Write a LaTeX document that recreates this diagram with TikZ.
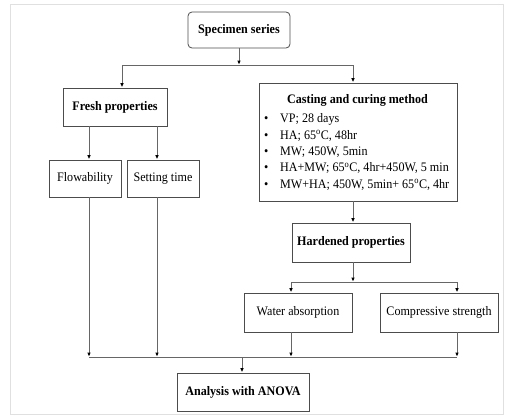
\documentclass[tikz,border=0pt]{standalone}
\usepackage{fontspec}
\setmainfont{Liberation Serif}[FakeStretch=0.93]
\usetikzlibrary{arrows.meta}
\begin{document}
\begin{tikzpicture}[x=1pt,y=-1pt,
  box/.style={draw=black!70, line width=0.8pt, inner sep=2pt, align=center, font=\fontsize{13}{15}\selectfont},
  bbox/.style={box, font=\fontsize{13}{15}\selectfont\bfseries},
  line/.style={draw=black!60, line width=0.8pt},
  arr/.style={line, -{Latex[length=4pt,width=3.6pt,black]}, shorten >=0.4pt}]
\useasboundingbox (0,0) rectangle (506,415);
\draw[black!12, line width=0.8pt] (10.5,4) rectangle (503,414);

\node[bbox, rounded corners=4pt, minimum width=102pt, minimum height=36pt] (spec) at (239,30) {Specimen series};
\node[bbox, minimum width=104pt, minimum height=38pt] (fresh) at (115,107) {Fresh properties};
\node[box, minimum width=72pt, minimum height=37pt] (flow) at (85,178.5) {Flowability};
\node[box, minimum width=72pt, minimum height=37pt] (set) at (163,178.5) {Setting time};
\node[draw=black!70, line width=0.8pt, minimum width=198pt, minimum height=118pt] (cast) at (358,142) {};
\node[font=\fontsize{13}{15}\selectfont\bfseries] (casttitle) at (357.5,100) {Casting and curing method};
\node[anchor=west, align=left, font=\fontsize{13}{16.3}\selectfont, inner sep=0pt] (castlist) at (264,152) {%
\makebox[16pt][l]{•}VP; 28 days\\
\makebox[16pt][l]{•}HA; 65\textsuperscript{o}C, 48hr\\
\makebox[16pt][l]{•}MW; 450W, 5min\\
\makebox[16pt][l]{•}HA+MW; 65\textsuperscript{o}C, 4hr+450W, 5 min\\
\makebox[16pt][l]{•}MW+HA; 450W, 5min+ 65\textsuperscript{o}C, 4hr};
\node[bbox, minimum width=118pt, minimum height=39pt] (hard) at (351,242.5) {Hardened properties};
\node[box, minimum width=108pt, minimum height=39pt] (water) at (298,312.5) {Water absorption};
\node[box, minimum width=118pt, minimum height=39pt] (comp) at (439,312.5) {Compressive strength};
\node[bbox, minimum width=132pt, minimum height=38pt] (anova) at (243,392) {Analysis with ANOVA};

% junction coordinates
\coordinate (t0) at (239,65);
\coordinate (tl) at (122,65);
\coordinate (tr) at (353,65);
\coordinate (f1) at (89,126);
\coordinate (f2) at (157,126);
\coordinate (h0) at (353,282);
\coordinate (hl) at (291,282);
\coordinate (hr) at (457,282);
\coordinate (b1) at (89,357);
\coordinate (b2) at (157,357);
\coordinate (b3) at (291,357);
\coordinate (b4) at (457,357);
\coordinate (b0) at (242,357);

\draw[arr] (spec.south) -- (t0);
\draw[line] (tl) -- (tr);
\draw[arr] (tl) -- (tl |- fresh.north);
\draw[arr] (tr) -- (tr |- cast.north);

\draw[arr] (f1) -- (f1 |- flow.north);
\draw[arr] (f2) -- (f2 |- set.north);

\draw[arr] (cast.south -| h0) -- (h0 |- hard.north);
\draw[arr] (hard.south -| h0) -- (h0);
\draw[line] (hl) -- (hr);
\draw[arr] (hl) -- (hl |- water.north);
\draw[arr] (hr) -- (hr |- comp.north);

\draw[arr] (b1 |- flow.south) -- (b1);
\draw[arr] (b2 |- set.south) -- (b2);
\draw[arr] (b3 |- water.south) -- (b3);
\draw[arr] (b4 |- comp.south) -- (b4);
\draw[line] (b1) -- (b4);
\draw[arr] (b0) -- (b0 |- anova.north);
\end{tikzpicture}
\end{document}
